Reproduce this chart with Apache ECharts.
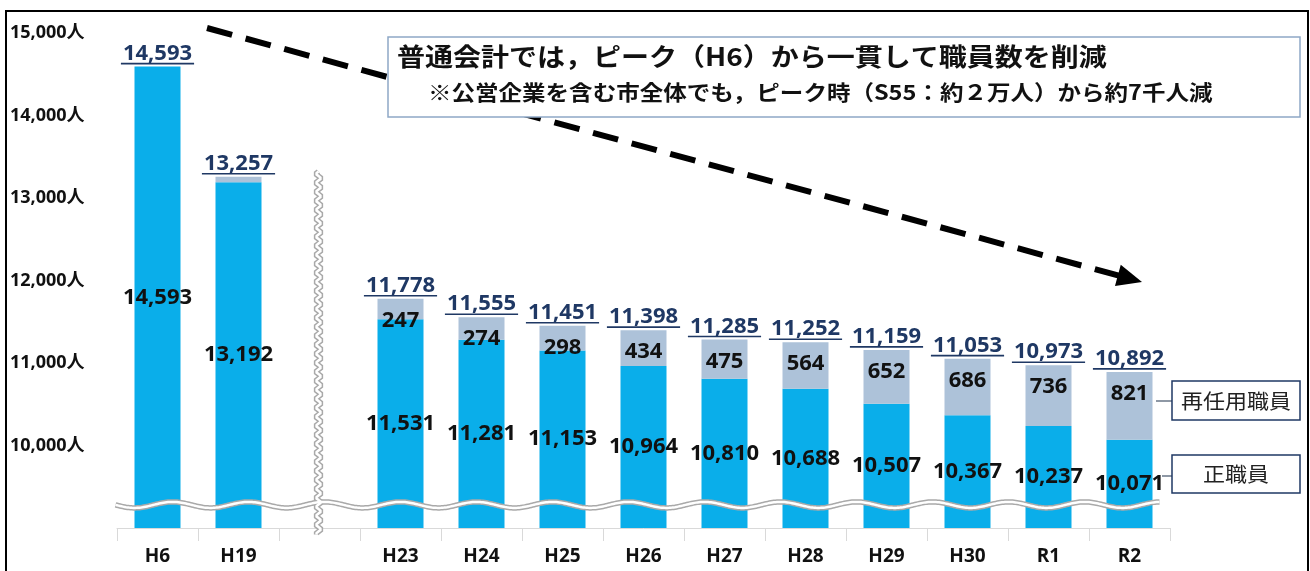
<!DOCTYPE html>
<html>
<head>
<meta charset="utf-8">
<script src="https://cdn.jsdelivr.net/npm/echarts@6/dist/echarts.min.js"></script>
<style>
  html, body { margin: 0; padding: 0; background: #fff; }
  #main { width: 1310px; height: 571px; }
</style>
</head>
<body>
<div id="main"></div>
<script>
// fiscal years (blank slot = axis break between H19 and H23)
const categories = ['H6', 'H19', '', 'H23', 'H24', 'H25', 'H26', 'H27', 'H28', 'H29', 'H30', 'R1', 'R2'];
// 正職員
const regularStaff = [14593, 13192, null, 11531, 11281, 11153, 10964, 10810, 10688, 10507, 10367, 10237, 10071];
// 再任用職員
const reappointedStaff = [null, 65, null, 247, 274, 298, 434, 475, 564, 652, 686, 736, 821];
// totals shown above bars
const totals = [14593, 13257, null, 11778, 11555, 11451, 11398, 11285, 11252, 11159, 11053, 10973, 10892];

const yMin = 9000, yMax = 15000, yStep = 1000;

const BLUE = '#0aaeea';
const GRAY = '#adc2d9';
const NAVY = '#1f3864';
const NUM_FONT = '"Open Sans", "Noto Sans CJK JP", sans-serif';
const JP_FONT = '"Noto Sans CJK JP", sans-serif';

const chart = echarts.init(document.getElementById('main'));

const measureCtx = document.createElement('canvas').getContext('2d');
function textWidth(txt, font) {
  measureCtx.font = font;
  return measureCtx.measureText(txt).width;
}

const fmt = (v) => v.toLocaleString('en-US');

const totalData = totals
  .map((v, i) => (v == null ? null : [i, v]))
  .filter((d) => d);

const options = {
  animation: false,
  grid: { left: 117, right: 140, top: 33, bottom: 43 },
  xAxis: {
    type: 'category',
    data: categories,
    axisLine: { lineStyle: { color: '#d9d9d9', width: 1 } },
    axisTick: { show: true, length: 13, lineStyle: { color: '#d9d9d9' } },
    axisLabel: {
      margin: 19,
      fontFamily: NUM_FONT,
      fontWeight: 'bold',
      fontSize: 19,
      color: '#111',
    },
  },
  yAxis: {
    type: 'value',
    min: yMin,
    max: yMax,
    interval: yStep,
    splitLine: { show: false },
    axisLine: { show: false },
    axisTick: { show: false },
    axisLabel: {
      showMinLabel: false,
      align: 'left',
      margin: 107,
      fontFamily: NUM_FONT,
      fontWeight: 'bold',
      fontSize: 18,
      color: '#111',
      formatter: (v) => (v === yMin ? '' : fmt(v) + '人'),
    },
  },
  series: [
    {
      name: '正職員',
      type: 'bar',
      stack: 'staff',
      barWidth: 46,
      data: regularStaff,
      itemStyle: { color: BLUE },
      label: {
        show: true,
        position: 'inside',
        fontFamily: NUM_FONT,
        fontWeight: 'bold',
        fontSize: 22,
        color: '#111',
        formatter: (p) => fmt(p.value),
      },
    },
    {
      name: '再任用職員',
      type: 'bar',
      stack: 'staff',
      barWidth: 46,
      data: reappointedStaff,
      itemStyle: { color: GRAY },
      label: {
        show: true,
        position: 'insideTop',
        distance: 11,
        fontFamily: NUM_FONT,
        fontWeight: 'bold',
        fontSize: 22,
        color: '#111',
        // segments too thin to hold a number stay unlabelled
        formatter: (p) => (p.value >= 100 ? fmt(p.value) : ''),
      },
    },
    {
      name: '合計',
      type: 'custom',
      data: totalData,
      encode: { x: 0, y: 1 },
      z: 5,
      renderItem: (params, api) => {
        const pt = api.coord([api.value(0), api.value(1)]);
        const txt = fmt(api.value(1));
        const font = 'bold 22px ' + NUM_FONT;
        const w = textWidth(txt, font) + 4;
        return {
          type: 'group',
          children: [
            {
              type: 'text',
              style: {
                text: txt,
                x: pt[0],
                y: pt[1] - 2,
                align: 'center',
                verticalAlign: 'bottom',
                font: font,
                fill: NAVY,
              },
            },
            {
              type: 'line',
              shape: { x1: pt[0] - w / 2, y1: pt[1] - 3, x2: pt[0] + w / 2, y2: pt[1] - 3 },
              style: { stroke: NAVY, lineWidth: 1.6 },
            },
          ],
        };
      },
    },
  ],
};

chart.setOption(options);

// ---- decorations: axis-break waves, arrow, note box, legend boxes ----
function wave(x0, y0, x1, y1, period, amp) {
  const pts = [];
  const len = Math.hypot(x1 - x0, y1 - y0);
  const ux = (x1 - x0) / len, uy = (y1 - y0) / len;
  for (let s = 0; s <= len; s += 1.5) {
    const o = amp * Math.sin((2 * Math.PI * s) / period);
    pts.push([x0 + ux * s - uy * o, y0 + uy * s + ux * o]);
  }
  return pts;
}
function doubleWave(pts) {
  return [
    { type: 'polyline', z: 20, shape: { points: pts }, style: { stroke: '#a9a9a9', lineWidth: 5.5, fill: null } },
    { type: 'polyline', z: 21, shape: { points: pts }, style: { stroke: '#ffffff', lineWidth: 2.5, fill: null } },
  ];
}

const g0 = chart.convertToPixel({ gridIndex: 0 }, [0, 9280]);
const gLast = chart.convertToPixel({ gridIndex: 0 }, [categories.length - 1, 9280]);
const gBreakTop = chart.convertToPixel({ gridIndex: 0 }, [2, 13320]);
const gBreakBottom = chart.convertToPixel({ gridIndex: 0 }, [2, yMin]);

const hWave = wave(g0[0] - 42, g0[1], gLast[0] + 30, gLast[1], 76, 3);
const vWave = wave(gBreakTop[0] - 1, gBreakTop[1], gBreakBottom[0] - 1, gBreakBottom[1] + 8, 9, 2.2);

// arrow geometry
const ax0 = 207, ay0 = 28, tipX = 1142, tipY = 282;
const alen = Math.hypot(tipX - ax0, tipY - ay0);
const ux = (tipX - ax0) / alen, uy = (tipY - ay0) / alen;
const baseX = tipX - 25 * ux, baseY = tipY - 25 * uy;

chart.setOption({
  graphic: [
    ...doubleWave(vWave),
    ...doubleWave(hWave),
    {
      type: 'line', z: 30,
      shape: { x1: ax0, y1: ay0, x2: baseX + 2 * ux, y2: baseY + 2 * uy },
      style: { stroke: '#000', lineWidth: 6, lineDash: [26, 14] },
    },
    {
      type: 'polygon', z: 30,
      shape: { points: [[tipX, tipY], [baseX - 11 * uy, baseY + 11 * ux], [baseX + 11 * uy, baseY - 11 * ux]] },
      style: { fill: '#000' },
    },
    {
      type: 'rect', z: 31,
      shape: { x: 388, y: 37, width: 912, height: 80 },
      style: { fill: '#fff', stroke: '#8ea8c6', lineWidth: 1.5 },
    },
    {
      type: 'text', z: 32, x: 397, y: 56, scaleX: 1.12,
      style: {
        text: '普通会計では，ピーク（H6）から一貫して職員数を削減',
        font: 'bold 25px ' + JP_FONT, fill: '#111', verticalAlign: 'middle',
      },
    },
    {
      type: 'text', z: 32, x: 428, y: 92, scaleX: 1.12,
      style: {
        text: '※公営企業を含む市全体でも，ピーク時（S55：約２万人）から約7千人減',
        font: 'bold 21px ' + JP_FONT, fill: '#111', verticalAlign: 'middle',
      },
    },
    // legend call-outs
    {
      type: 'line', z: 31,
      shape: { x1: 1156, y1: 401, x2: 1172, y2: 401 },
      style: { stroke: '#44546a', lineWidth: 1.2 },
    },
    {
      type: 'rect', z: 31,
      shape: { x: 1172, y: 381, width: 128, height: 39 },
      style: { fill: '#fff', stroke: NAVY, lineWidth: 1.5 },
    },
    {
      type: 'text', z: 32, x: 1236, y: 401, scaleX: 1.1,
      style: { text: '再任用職員', font: '20px ' + JP_FONT, fill: '#222', align: 'center', verticalAlign: 'middle' },
    },
    {
      type: 'polyline', z: 31,
      shape: { points: [[1162, 476], [1172, 476]] },
      style: { stroke: '#44546a', lineWidth: 1.2, fill: null },
    },
    {
      type: 'rect', z: 31,
      shape: { x: 1172, y: 455, width: 128, height: 38 },
      style: { fill: '#fff', stroke: NAVY, lineWidth: 1.5 },
    },
    {
      type: 'text', z: 32, x: 1236, y: 474, scaleX: 1.1,
      style: { text: '正職員', font: '20px ' + JP_FONT, fill: '#222', align: 'center', verticalAlign: 'middle' },
    },
    // outer frame
    {
      type: 'rect', z: 40,
      shape: { x: 6, y: 11, width: 1302, height: 572 },
      style: { fill: null, stroke: '#000', lineWidth: 2 },
    },
  ],
});
</script>
</body>
</html>
